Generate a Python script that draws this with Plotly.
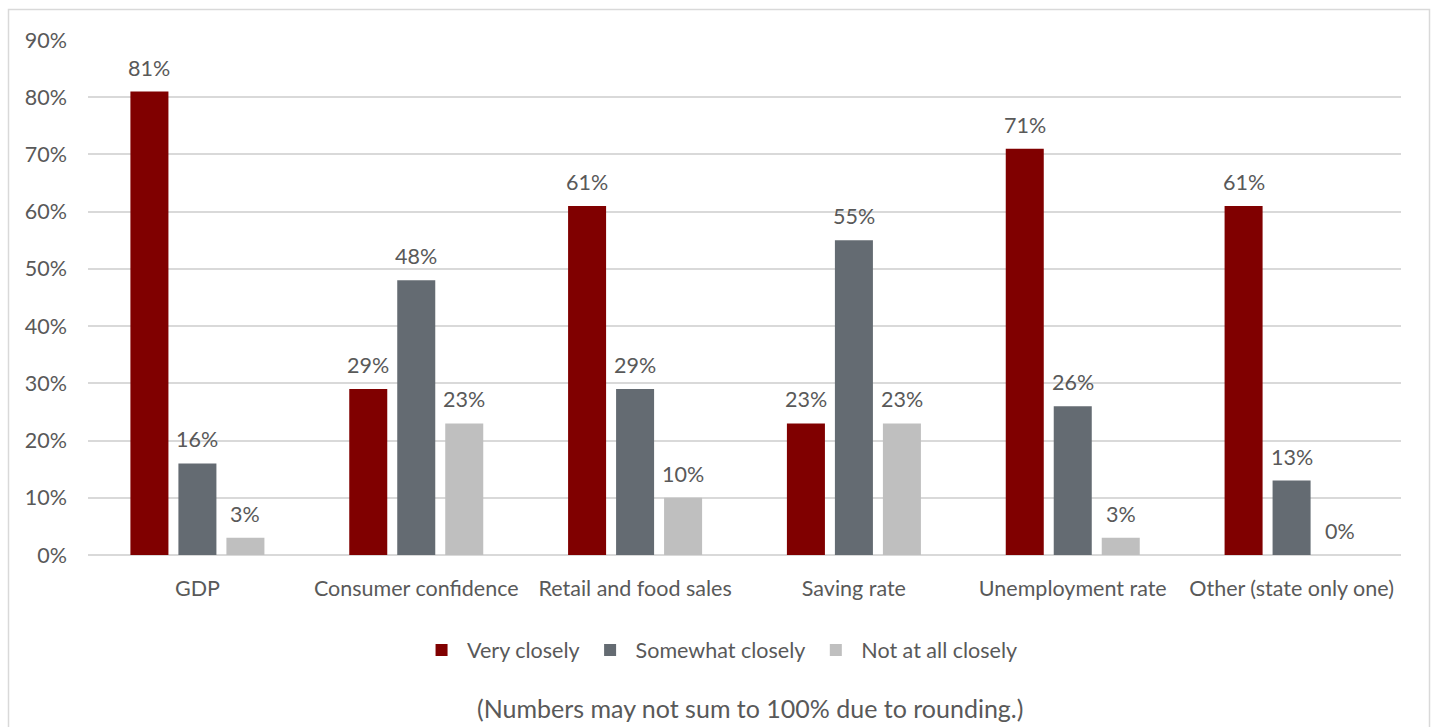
import plotly.graph_objects as go

categories = ["GDP", "Consumer confidence", "Retail and food sales",
              "Saving rate", "Unemployment rate", "Other (state only one)"]
very_closely = [81, 29, 61, 23, 71, 61]
somewhat_closely = [16, 48, 29, 55, 26, 13]
not_at_all_closely = [3, 23, 10, 23, 3, 0]
y_ticks = [0, 10, 20, 30, 40, 50, 60, 70, 80, 90]
y_tick_labels = [f"{v}%" for v in y_ticks]
note = "(Numbers may not sum to 100% due to rounding.)"

FONT = "Lato, 'Open Sans', sans-serif"
TEXT_COLOR = "#595959"
FS = 21.5

series = [
    ("Very closely", very_closely, "#800000"),
    ("Somewhat closely", somewhat_closely, "#646B72"),
    ("Not at all closely", not_at_all_closely, "#BFBFBF"),
]

W, H = 1438, 727
L, R, T, B = 88, 37, 40, 172
pw, ph = W - L - R, H - T - B
BARGAP, GROUPGAP = 0.342, 0.208
slot_px = pw / len(categories) * (1 - BARGAP) / len(series)

def px_x(p):
    return (p - L) / pw

def px_y(p):
    return (H - B - p) / ph

fig = go.Figure()
annotations = []
for i, (name, values, color) in enumerate(series):
    fig.add_trace(go.Bar(
        x=categories, y=values, name=name,
        marker=dict(color=color, line=dict(width=0)),
    ))
    # value labels sit above each bar, offset to the bar's slot in the group
    offset = (i - (len(series) - 1) / 2) * slot_px
    for cat, v in zip(categories, values):
        annotations.append(dict(
            x=cat, y=v, xref="x", yref="y", text=f"{v}%",
            showarrow=False, xanchor="center", yanchor="bottom",
            xshift=offset, yshift=9,
            font=dict(family=FONT, size=FS, color=TEXT_COLOR)))

annotations.append(dict(text=note, xref="paper", yref="paper",
                        x=px_x(750), y=px_y(708), xanchor="center",
                        yanchor="middle", showarrow=False,
                        font=dict(family=FONT, size=25, color=TEXT_COLOR)))

fig.update_layout(
    width=W, height=H,
    margin=dict(l=L, r=R, t=T, b=B),
    paper_bgcolor="white", plot_bgcolor="white",
    barmode="group", bargap=BARGAP, bargroupgap=GROUPGAP,
    font=dict(family=FONT, size=FS, color=TEXT_COLOR),
    showlegend=True,
    legend=dict(orientation="h", x=0.481, xanchor="center",
                y=px_y(650), yanchor="middle",
                font=dict(family=FONT, size=FS, color=TEXT_COLOR),
                itemwidth=41, traceorder="normal"),
    xaxis=dict(showgrid=False, showline=False, zeroline=False,
               ticks="", ticklabelstandoff=18,
               tickfont=dict(family=FONT, size=FS, color=TEXT_COLOR)),
    yaxis=dict(range=[0, 90], tickmode="array", tickvals=y_ticks,
               ticktext=y_tick_labels,
               showgrid=True, gridcolor="#D9D9D9", gridwidth=1.5,
               zeroline=True, zerolinecolor="#D9D9D9", zerolinewidth=2,
               showline=False, ticks="", ticklabelstandoff=20,
               tickfont=dict(family=FONT, size=FS, color=TEXT_COLOR)),
    annotations=annotations,
    shapes=[dict(type="rect", xref="paper", yref="paper",
                 x0=px_x(8.5), x1=px_x(1429.5), y0=px_y(800), y1=px_y(9.5),
                 line=dict(color="#D9D9D9", width=1.5), layer="below")],
)

fig.write_html("out.html")
